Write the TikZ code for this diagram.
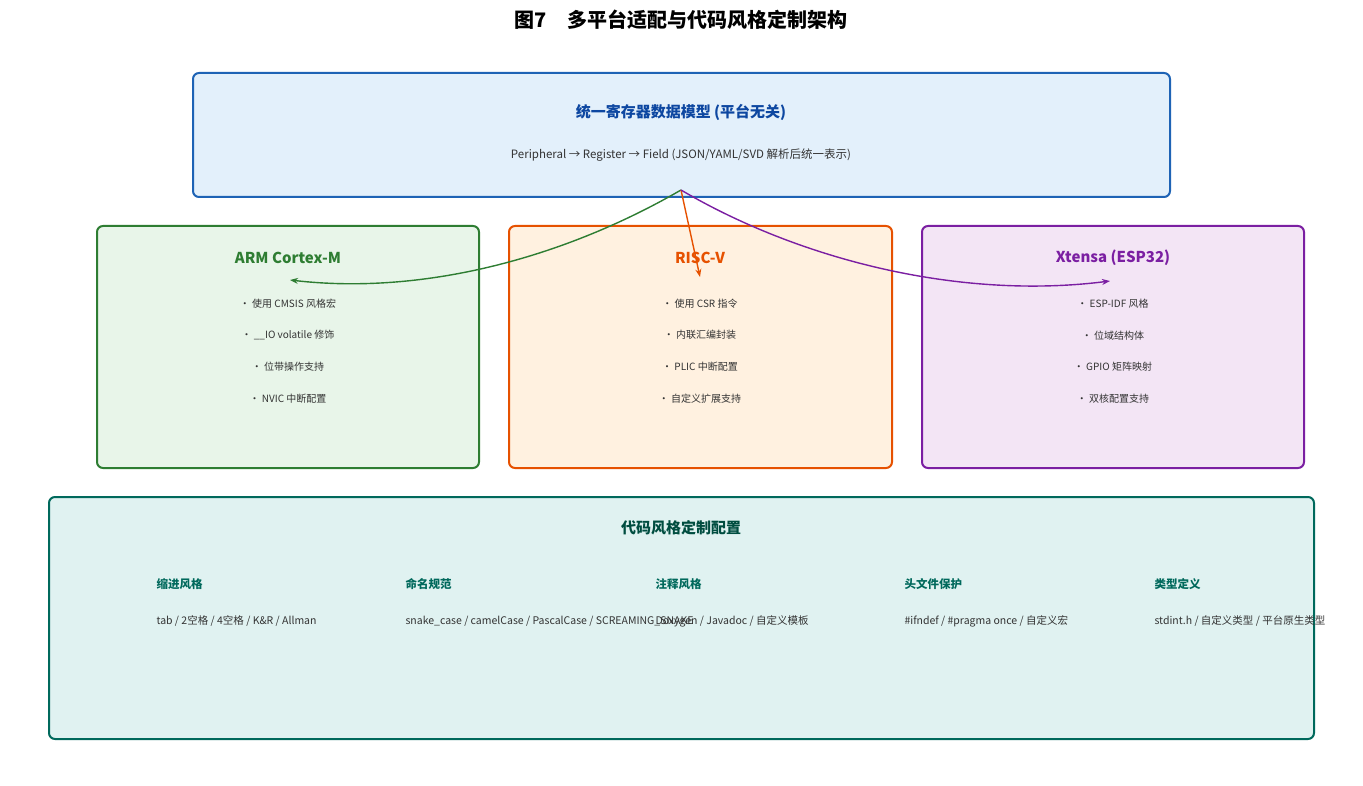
\documentclass[tikz,border=0pt]{standalone}
\usepackage{fontspec}
\setmainfont{Noto Sans CJK SC}
\usetikzlibrary{positioning, arrows.meta}
\definecolor{bluefill}{HTML}{E3F0FB}\definecolor{blueline}{HTML}{1E63B5}\definecolor{bluetext}{HTML}{0D47A1}
\definecolor{greenfill}{HTML}{E8F5E9}\definecolor{greenline}{HTML}{2E7D32}
\definecolor{orangefill}{HTML}{FFF1E0}\definecolor{orangeline}{HTML}{E65100}
\definecolor{purplefill}{HTML}{F3E5F5}\definecolor{purpleline}{HTML}{7B1FA2}
\definecolor{tealfill}{HTML}{E0F2F1}\definecolor{tealline}{HTML}{00695C}\definecolor{tealtext}{HTML}{004D40}
\definecolor{bodytext}{HTML}{333333}
\tikzset{
panel/.style={draw, line width=2pt, rounded corners=6pt}, % framed boxes
head/.style={font=\fontsize{15}{18}\selectfont\bfseries},
item/.style={font=\fontsize{10}{12}\selectfont, text=bodytext},
colhead/.style={font=\fontsize{11.5}{14}\selectfont\bfseries, text=tealline, anchor=west},
coltext/.style={font=\fontsize{10.5}{13}\selectfont, text=bodytext, anchor=west},
link/.style={-{Stealth[length=8pt]}, line width=1.4pt},
}
\begin{document}
\begin{tikzpicture}[x=1pt, y=-1pt]
\useasboundingbox (0,0) rectangle (1363,786);
\node[font=\fontsize{20}{24}\selectfont\bfseries] (title) at (681,20) {图7\quad 多平台适配与代码风格定制架构};
% unified model
\draw[panel, draw=blueline, fill=bluefill] (193,73) rectangle (1170,197);
\node[head, text=bluetext] (model) at (681,112) {统一寄存器数据模型 (平台无关)};
\node[font=\fontsize{11.5}{14}\selectfont, text=bodytext] (modeldesc) at (681,155) {Peripheral → Register → Field (JSON/YAML/SVD 解析后统一表示)};
% platforms
\draw[panel, draw=greenline, fill=greenfill] (97,226) rectangle (479,468);
\draw[panel, draw=orangeline, fill=orangefill] (509,226) rectangle (892,468);
\draw[panel, draw=purpleline, fill=purplefill] (922,226) rectangle (1304,468);
\node[head, text=greenline] (arm) at (288,258) {ARM Cortex-M};
\node[head, text=orangeline] (riscv) at (700,258) {RISC-V};
\node[head, text=purpleline] (xtensa) at (1113,258) {Xtensa (ESP32)};
\foreach \t [count=\i] in {• 使用 CMSIS 风格宏, • \_\_IO volatile 修饰, • 位带操作支持, • NVIC 中断配置}
  \node[item] (arm\i) at (288,272+31.6*\i) {\t};
\foreach \t [count=\i] in {• 使用 CSR 指令, • 内联汇编封装, • PLIC 中断配置, • 自定义扩展支持}
  \node[item] (riscv\i) at (700,272+31.6*\i) {\t};
\foreach \t [count=\i] in {• ESP-IDF 风格, • 位域结构体, • GPIO 矩阵映射, • 双核配置支持}
  \node[item] (xtensa\i) at (1113,272+31.6*\i) {\t};
% links
\coordinate (src) at (681,190);
\coordinate (armin) at (290,280);
\coordinate (riscvin) at (700,277);
\coordinate (xtensain) at (1110,281);
\draw[link, greenline] (src) .. controls (560,260) and (420,295) .. (armin);
\draw[link, orangeline] (src) -- (riscvin);
\draw[link, purpleline] (src) .. controls (800,260) and (960,300) .. (xtensain);
% code style
\draw[panel, draw=tealline, fill=tealfill] (49,497) rectangle (1314,739);
\node[head, text=tealtext] (style) at (681,528) {代码风格定制配置};
\foreach \h/\t/\x [count=\i] in {缩进风格/{tab / 2空格 / 4空格 / K\&R / Allman}/153,
  命名规范/{snake\_case / camelCase / PascalCase / SCREAMING\_SNAKE}/402,
  注释风格/{Doxygen / Javadoc / 自定义模板}/652,
  头文件保护/{\#ifndef / \#pragma once / 自定义宏}/901,
  类型定义/{stdint.h / 自定义类型 / 平台原生类型}/1151} {
  \node[colhead] (col\i) at (\x,584) {\h};
  \node[coltext] (val\i) at (\x,621) {\t};
}
\end{tikzpicture}
\end{document}
